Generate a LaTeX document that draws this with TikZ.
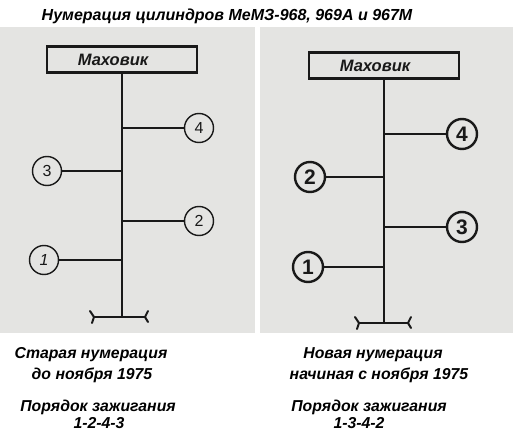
\documentclass[tikz,border=0pt]{standalone}
\usepackage{fontspec}
\setmainfont{Liberation Sans}
\definecolor{paper}{RGB}{228,228,226}
\definecolor{ink}{RGB}{25,25,25}
\begin{document}
\begin{tikzpicture}[x=1pt,y=-1pt,
  panel/.style={fill=paper,draw=none},
  flybox/.style={draw=ink,line width=2.2pt,minimum width=150pt,minimum height=26pt,inner sep=0pt,font=\fontsize{16.5}{16.5}\selectfont\bfseries\itshape,text=ink},
  cylA/.style={circle,draw=ink,line width=1.4pt,minimum size=29pt,inner sep=0pt,font=\fontsize{16}{16}\selectfont,text=ink},
  cylB/.style={circle,draw=ink,line width=2.4pt,minimum size=30pt,inner sep=0pt,font=\fontsize{21}{21}\selectfont\bfseries,text=ink},
  shaft/.style={draw=ink,line width=2pt},
  arm/.style={draw=ink,line width=1.8pt},
  caption/.style={font=\fontsize{15.8}{15.8}\selectfont\bfseries\itshape,text=black,inner sep=0pt},
  titlestyle/.style={font=\fontsize{16}{16}\selectfont\bfseries\itshape,text=black,inner sep=0pt}
]
\useasboundingbox (0,0) rectangle (515,447);
\fill[white] (0,0) rectangle (515,447);
% panels
\path[panel] (0,27) rectangle (255,333);
\path[panel] (260,27) rectangle (513,333);
% title
\node[titlestyle] (title) at (227,16) {Нумерация цилиндров МеМЗ-968, 969А и 967М};

% ===== left diagram =====
\node[flybox] (flyA) at (122,59.5) {Маховик\hspace*{18pt}};
\coordinate (botA) at (122,317);
\draw[shaft] (flyA.south) -- (botA);
\coordinate (LA) at (94,317);
\coordinate (RA) at (145,317);
\draw[shaft] (LA) -- (RA);
\draw[shaft,line cap=round] (LA) -- ++(-4,-6);
\draw[shaft,line cap=round] (LA) -- ++(-2,6);
\draw[shaft,line cap=round] (RA) -- ++(3,-6);
\draw[shaft,line cap=round] (RA) -- ++(3,5);

\node[cylA] (a4) at (199,128) {4};
\node[cylA] (a3) at (47,171) {3};
\node[cylA] (a2) at (199,221) {2};
\node[cylA] (a1) at (44,260) {\itshape 1};
\coordinate (sa4) at (122,128);
\coordinate (sa3) at (122,171);
\coordinate (sa2) at (122,221);
\coordinate (sa1) at (122,260);
\draw[arm] (sa4) -- (a4);
\draw[arm] (a3) -- (sa3);
\draw[arm] (sa2) -- (a2);
\draw[arm] (a1) -- (sa1);

% ===== right diagram =====
\node[flybox] (flyB) at (384,65.5) {Маховик\hspace*{18pt}};
\coordinate (botB) at (384,323);
\draw[shaft] (flyB.south) -- (botB);
\coordinate (LB) at (359,323);
\coordinate (RB) at (408,323);
\draw[shaft] (LB) -- (RB);
\draw[shaft,line cap=round] (LB) -- ++(-4,-6);
\draw[shaft,line cap=round] (LB) -- ++(-2,6);
\draw[shaft,line cap=round] (RB) -- ++(3,-6);
\draw[shaft,line cap=round] (RB) -- ++(3,5);

\node[cylB] (b4) at (462,134) {4};
\node[cylB] (b2) at (310,177) {2};
\node[cylB] (b3) at (462,227) {3};
\node[cylB] (b1) at (308,267) {1};
\coordinate (sb4) at (384,134);
\coordinate (sb2) at (384,177);
\coordinate (sb3) at (384,227);
\coordinate (sb1) at (384,267);
\draw[arm] (sb4) -- (b4);
\draw[arm] (b2) -- (sb2);
\draw[arm] (sb3) -- (b3);
\draw[arm] (b1) -- (sb1);

% captions
\node[caption] (c1) at (91,355) {Старая нумерация};
\node[caption] (c2) at (92,375) {до ноября 1975};
\node[caption] (c3) at (98,407) {Порядок зажигания};
\node[caption] (c4) at (99,423) {1-2-4-3};
\node[caption] (d1) at (373,355) {Новая нумерация};
\node[caption] (d2) at (379,375) {начиная с ноября 1975};
\node[caption] (d3) at (369,407) {Порядок зажигания};
\node[caption] (d4) at (359,423) {1-3-4-2};
\end{tikzpicture}
\end{document}
